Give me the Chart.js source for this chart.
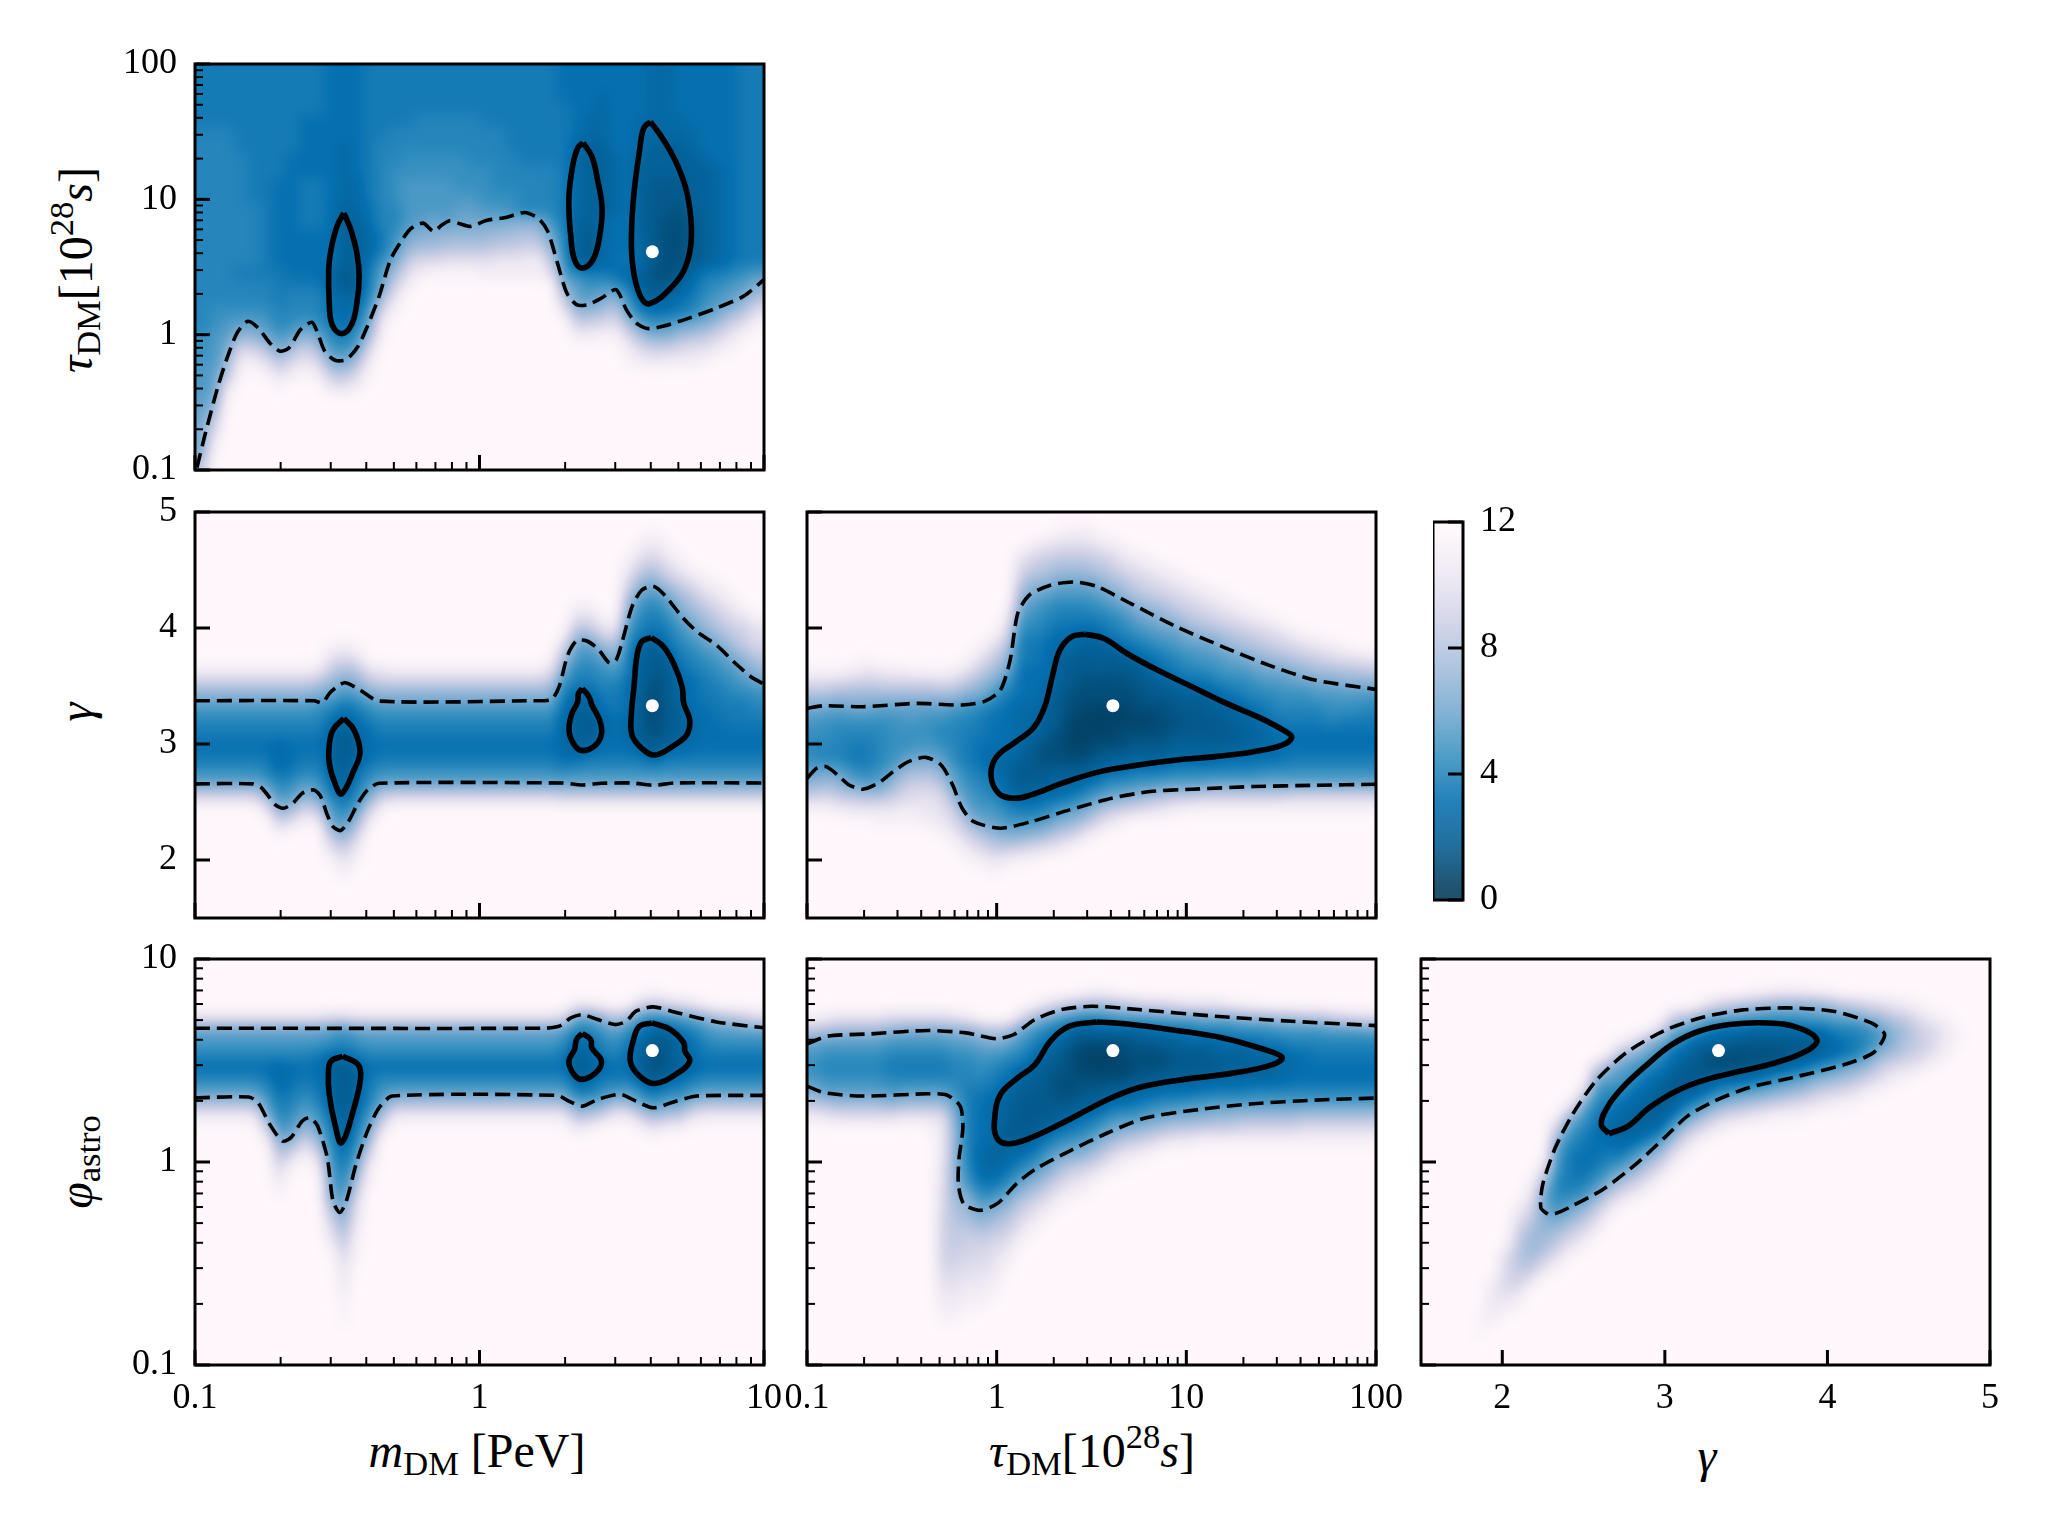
<!DOCTYPE html>
<html><head><meta charset="utf-8">
<style>
html,body{margin:0;padding:0;background:#fff;width:2048px;height:1536px;overflow:hidden}
canvas{position:absolute}
.t{position:absolute;font-family:"Liberation Serif",serif;font-size:48px;line-height:1;color:#000;white-space:nowrap;transform:translate(-50%,-50%)}
.r{transform:translate(-50%,-50%) rotate(-90deg)}
.t sub{font-size:.72em;vertical-align:-.22em;line-height:0}
.t sup{font-size:.72em;vertical-align:.55em;line-height:0}
</style>
<script src="https://cdn.jsdelivr.net/npm/chart.js@4/dist/chart.umd.js"></script>
</head><body>
<div class="t" style="left:477px;top:1451px"><i>m</i><sub>DM</sub>&nbsp;[PeV]</div>
<div class="t" style="left:1092px;top:1451px"><i>τ</i><sub>DM</sub>[10<sup>28</sup><i>s</i>]</div>
<div class="t" style="left:1707px;top:1456px"><i>γ</i></div>
<div class="t r" style="left:76px;top:270px"><i>τ</i><sub>DM</sub>[10<sup>28</sup><i>s</i>]</div>
<div class="t r" style="left:76px;top:712px"><i>γ</i></div>
<div class="t r" style="left:76px;top:1162px"><i>φ</i><sub>astro</sub></div>
<script>
// ---- tick labels ----
const massMajor=[0.1,1,10];
const massMinor=[0.2,0.3,0.4,0.5,0.6,0.7,0.8,0.9,2,3,4,5,6,7,8,9];
const tauMajor=[0.1,1,10,100];
const tauMinor=[0.2,0.3,0.4,0.5,0.6,0.7,0.8,0.9,2,3,4,5,6,7,8,9,20,30,40,50,60,70,80,90];
const gammaMajor=[2,3,4,5];
const phiMajor=[0.1,1,10];
const phiMinor=massMinor;
const colorbarTicks=[0,4,8,12];

// ---- best fit ----
const bestMass=4.05, bestTau=4.1, bestGamma=3.33, bestPhi=3.54;

// ---- contours: log10 values for log axes, plain values for gamma ----
const m_tau_solidA_x=[-.477,-.452,-.431,-.423,-.431,-.450,-.485,-.518,-.528,-.530,-.522,-.501,-.477];
const m_tau_solidA_y=[.898,.775,.603,.431,.234,.074,.008,.074,.234,.480,.628,.800,.898];
const m_tau_solidB_x=[.364,.395,.415,.431,.422,.399,.361,.334,.321,.314,.327,.345,.364];
const m_tau_solidB_y=[1.419,1.316,1.144,.935,.726,.554,.492,.554,.726,.997,1.242,1.378,1.419];
const m_tau_solidC_x=[.601,.647,.698,.732,.745,.725,.678,.597,.563,.539,.534,.543,.563,.577,.601];
const m_tau_solidC_y=[1.574,1.439,1.242,1.021,.726,.505,.357,.229,.296,.505,.726,1.046,1.365,1.525,1.574];
const m_tau_dash_x=[-.993,-.966,-.919,-.885,-.852,-.814,-.778,-.737,-.701,-.670,-.629,-.589,-.569,-.544,-.508,-.468,-.427,-.394,-.353,-.313,-.272,-.239,-.198,-.162,-.131,-.104,-.070,-.030,.024,.092,.159,.206,.240,.274,.307,.341,.381,.429,.480,.516,.550,.590,.644,.739,.833,.927,1];
const m_tau_dash_y=[-.983,-.749,-.380,-.159,.013,.099,.050,-.061,-.122,-.098,.038,.092,.013,-.122,-.189,-.184,-.085,.062,.283,.554,.701,.788,.824,.763,.812,.842,.820,.800,.844,.866,.903,.861,.763,.529,.308,.222,.222,.271,.333,.185,.087,.045,.062,.124,.197,.283,.406];

const m_g_solidA_x=[-.477,-.441,-.420,-.441,-.485,-.508,-.528,-.528,-.515,-.477];
const m_g_solidA_y=[3.221,3.121,2.934,2.776,2.570,2.661,2.834,2.991,3.121,3.221];
const m_g_solidB_x=[.361,.385,.395,.422,.429,.408,.361,.334,.315,.323,.345,.348,.361];
const m_g_solidB_y=[3.479,3.407,3.336,3.207,3.092,2.991,2.943,2.991,3.106,3.250,3.364,3.436,3.479];
const m_g_solidC_x=[.604,.647,.685,.712,.718,.739,.728,.685,.617,.570,.536,.534,.543,.553,.570,.604];
const m_g_solidC_y=[3.918,3.838,3.680,3.494,3.350,3.207,3.077,2.991,2.905,2.963,3.077,3.264,3.494,3.752,3.881,3.918];
const m_g_dashUp_x=[-1,-.582,-.553,-.522,-.474,-.420,-.353,.186,.253,.280,.310,.341,.375,.415,.456,.480,.503,.536,.570,.611,.651,.712,.765,.833,.900,.954,1];
const m_g_dashUp_y=[3.373,3.373,3.356,3.451,3.528,3.465,3.370,3.373,3.385,3.494,3.766,3.890,3.890,3.824,3.700,3.723,3.895,4.182,4.326,4.360,4.283,4.096,3.967,3.852,3.694,3.580,3.516];
const m_g_dashLo_x=[-1,-.798,-.764,-.717,-.690,-.656,-.623,-.582,-.558,-.535,-.515,-.488,-.461,-.427,-.394,-.353,.294,.361,.429,.536,.611,.685,1];
const m_g_dashLo_y=[2.656,2.656,2.618,2.475,2.446,2.489,2.575,2.604,2.547,2.389,2.288,2.254,2.331,2.489,2.604,2.661,2.664,2.647,2.661,2.664,2.644,2.664,2.664];

const t_g_solid_x=[.465,.566,.687,.848,1.030,1.212,1.394,1.525,1.556,1.505,1.354,1.152,.949,.747,.545,.343,.182,.091,.010,-.030,0,.101,.192,.253,.293,.333,.394,.465];
const t_g_solid_y=[3.947,3.910,3.780,3.637,3.494,3.350,3.221,3.106,3.057,2.991,2.934,2.891,2.862,2.819,2.762,2.661,2.561,2.532,2.575,2.733,2.891,3.020,3.135,3.321,3.580,3.809,3.924,3.947];
const t_g_dashUp_x=[-1,-.909,-.707,-.424,-.182,-.061,.020,.071,.111,.172,.283,.404,.525,.707,.949,1.192,1.434,1.677,2];
const t_g_dashUp_y=[3.307,3.330,3.321,3.350,3.336,3.370,3.465,3.723,4.125,4.283,4.369,4.397,4.360,4.211,4.010,3.838,3.680,3.551,3.471];
const t_g_dashLo_x=[-1,-.949,-.899,-.838,-.778,-.707,-.626,-.545,-.465,-.374,-.293,-.232,-.182,-.121,.020,.182,.384,.606,.808,1.030,1.354,1.677,2];
const t_g_dashLo_y=[2.704,2.791,2.805,2.733,2.647,2.610,2.661,2.762,2.848,2.885,2.819,2.647,2.446,2.331,2.274,2.331,2.432,2.532,2.590,2.610,2.633,2.644,2.653];

const m_p_solidA_x=[-.481,-.427,-.418,-.441,-.485,-.508,-.528,-.531,-.522,-.481];
const m_p_solidA_y=[.521,.480,.415,.267,.095,.185,.333,.439,.497,.521];
const m_p_solidB_x=[.361,.391,.395,.429,.408,.361,.332,.314,.334,.341,.361];
const m_p_solidB_y=[.633,.603,.562,.497,.439,.407,.431,.497,.554,.603,.633];
const m_p_solidC_x=[.606,.671,.718,.722,.739,.698,.617,.563,.530,.543,.563,.606];
const m_p_solidC_y=[.685,.652,.587,.546,.497,.439,.387,.423,.497,.611,.669,.685];
const m_p_dashUp_x=[-1,.226,.280,.321,.361,.415,.476,.516,.550,.611,.698,.833,1];
const m_p_dashUp_y=[.659,.659,.669,.710,.726,.702,.677,.693,.743,.764,.734,.690,.661];
const m_p_dashLo_x=[-1,-.811,-.778,-.737,-.693,-.663,-.623,-.596,-.569,-.535,-.515,-.491,-.468,-.434,-.394,-.353,-.306,.274,.314,.361,.415,.496,.550,.611,.685,.765,1];
const m_p_dashLo_y=[.316,.320,.292,.185,.103,.120,.202,.218,.177,.021,-.192,-.249,-.192,-.011,.152,.267,.325,.328,.300,.275,.308,.333,.300,.267,.297,.325,.328];

const t_p_solid_x=[.525,.687,.949,1.192,1.394,1.505,1.455,1.253,.949,.747,.586,.384,.182,.061,0,-.010,.020,.101,.202,.283,.384,.525];
const t_p_solid_y=[.690,.680,.648,.611,.559,.516,.480,.439,.402,.366,.308,.210,.120,.090,.120,.218,.333,.407,.480,.595,.669,.690];
const t_p_dashUp_x=[-1,-.889,-.667,-.364,-.162,0,.091,.202,.343,.505,.747,1.152,1.556,2];
const t_p_dashUp_y=[.582,.620,.631,.648,.636,.607,.628,.702,.751,.767,.751,.718,.693,.672];
const t_p_dashLo_x=[-1,-.909,-.707,-.364,-.263,-.192,-.178,-.198,-.202,-.172,-.081,.010,.101,.202,.384,.586,.788,1.071,1.354,1.677,2];
const t_p_dashLo_y=[.374,.341,.325,.336,.330,.275,.169,.021,-.110,-.208,-.238,-.200,-.110,-.036,.054,.144,.218,.259,.287,.305,.315];

const g_p_solid_x=[2.656,2.609,2.644,2.739,2.880,3.045,3.210,3.398,3.634,3.822,3.935,3.869,3.681,3.469,3.257,3.068,2.903,2.774,2.656];
const g_p_solid_y=[.139,.185,.267,.366,.472,.579,.644,.677,.685,.661,.603,.546,.489,.448,.407,.349,.267,.177,.139];
const g_p_dash_x=[2.279,2.237,2.249,2.326,2.432,2.574,2.762,2.998,3.233,3.469,3.751,4.034,4.270,4.352,4.282,4.105,3.822,3.516,3.304,3.139,2.998,2.833,2.621,2.409,2.326,2.279];
const g_p_dash_y=[-.257,-.225,-.110,.070,.234,.398,.538,.648,.713,.748,.759,.743,.685,.628,.538,.480,.423,.366,.300,.226,.120,-.003,-.134,-.225,-.254,-.257];

// ---- heat levels: one character per cell, 0..o = 0..12 in steps of 0.5 ----
const heatMassTau=[
"77777777776 66777777777 77777766666 66556666677",
"77777777776 66777777777 77777766666 66556666677",
"77777777776 66777777777 77777766656 66556666677",
"77777777776 66777777777 77777776656 66556666677",
"77777777666 66777788888 77777776556 65555666677",
"88877777666 66778888888 88777776556 65555566677",
"88877777666 56788888888 88777775446 65444566677",
"88887776666 56788999998 88877775445 64444456677",
"88887776666 56789999999 98888875445 64444445677",
"88887766776 55789aaaa99 98888875445 64333445677",
"88887766776 55789aaaaaa 99988875445 64333445677",
"88888766776 45688aaaabb aa988875445 64332445677",
"88888766776 44688abcbcc ccddda74456 64322345677",
"88888766666 44579cddeee effgfc84356 64322345677",
"88888766666 4457aeffggg ghhiie84356 65322345677",
"88888766666 4469chjjkkk klllmh94356 75322345677",
"88877776665 347bfkmnnnn mmmmmka8776 5422357789a",
"88888877775 347cimooooo oooooodb9a9 7433468 9abd",
"88888878886 558floooooo oooooohbbce 9545679abdg",
"89999988886 56ajnoooooo ooooooleefh b7667 8acegk",
"89abba89a97 67cmooooooo oooooooiijk fb9abcdfikn",
"9abeecabec8 79fnooooooo ooooooommnn jfddfghjlno",
"9acjigcfifa 9bjoooooooo ooooooooooo mjiijkkmnoo",
"aaemmkgjljd cfmoooooooo ooooooooooo nmlmmmnoooo",
"abgnonkmnmh gjnoooooooo",
"abloo onoool kmooooooooo",
"bcnoooooooo",
"bfooooooooo",
"ciooooooooo",
"clooooooooo",
"cnooooooooo",
"goooooooooo"];

const flatG=[12,"mhda87679cj"];
const heatMassGamma=[flatG,flatG,flatG,flatG,flatG,
[12,"mhda87678bfl"],[12,"mhda87556 8adin"],[12,"mhda87667 9bfk"],[12,"mhda8767 8bejn"],[12,"lgc98767 8achm"],
[10,"nkheb86555568acgkn"],[10,"mjfc96533344 68adhkm"],[10,"nkgda7654567 8beiln"],[12,"kgc9766 68adim"],[12,"lhda87679cin"],
flatG,flatG,flatG,flatG,flatG,flatG,flatG,flatG,flatG,flatG,flatG,flatG,
[11,"nkgda87679cj"],[9,"njfc97655568ci"],[7,"mjfba8754444 69ci"],[7,"mjfb98754335 79ci"],[8,"mjeb98765567 9ci"],[8,"nkgda87766 679ci"],
[3,"nljgdb98776665 5679ci"],[2,"mkheb98754443333479ci"],[1,"nljgda87643322122359ci"],[2,"nljgca87643333335 79ci"],[3,"nlifdb987655444 579ci"],
[4,"nkhfdb98766655 679ci"],[5,"mkhfdb987766 66 79ci"],[5,"nljhfca98776667 9ci"],[6,"nljhfca987766 79ci"],[7,"nkiheca87766 79ci"],[8,"mkjgeb987667 9ci"]];

const heatTauGamma=[
[12,"njfca989bein"],[12,"njfc9988cfjn"],[12,"nieb9888behm"],[12,"miec98779chl"],[11,"nlhec98778bgl"],[12,"lieb98889bgln"],
[12,"mieb9999behln"],[12,"mieba99behjmn"],[12,"nieba9acfikln"],[12,"nieb99acfiklm"],[12,"njeb989bdgjkln"],[12,"miea8888abdhjln"],
[11,"nkgc98777 89abfiln"],[10,"nkhec87766789acgjm"],[9,"nkhfc97666567 8abehln"],[7,"nljgec976666545 68adhm"],
[3,"ljheca87766655554335 7adin"],[2,"mjheca9877666 555333 457aejn"],[2,"ligeb9876665544 32234 68bfk"],
[1,"nkhfca8765444 333222 456adhl"],[1,"mkhfca87654 33221112357bein"],[1,"mkhfca87543322111124 69cgl"],[1,"nligdb976 4432211123 57bfjn"],
[2,"mjhfca87533221112469chl"],[2,"nljgeb98643221122469din"],[3,"mkigdb975332212 357aej"],[3,"nljhe ca8653321234 7afk"],
[4,"mkifdb976432223 57bgl"],[4,"nljheba87533234 58bhm"],[5,"mkigdb98643334 58bhn"],[5,"nljheba864333458bin"],
[6,"mkifca975433458cin"],[6,"nljgeba86443468cin"],[7,"mkhfca875444 68cin"],[7,"nligdb986545 68cin"],[8,"mjheca8765569cin"],
[8,"nkifca987666 9cin"],[9,"mjgdb987667 9cjn"],[9,"nkheb987667 9cjn"],[10,"lifca87667 9cjn"],[10,"mjfca986679cjn"],
[10,"nkgda97667 9cjn"],[11,"kgda97667 9cjn"],[11,"lhda87667 9cjn"]];

const flatP=[4,"lca868bgm"];
const heatMassPhi=[flatP,flatP,flatP,flatP,flatP,
[4,"lca8679bejn"],[4,"lca85567 8adgjln"],[4,"lca86678 9bejn"],[4,"lca8678acfjn"],[4,"lca76678acfjm"],
[4,"kb9645556789abcfikm"],[4,"ka8633334456 789bdfhjklmnn"],[4,"lc97545567 8acfiklmnn"],[4,"lca86778acfjmn"],[4,"lca868acgl"],
flatP,flatP,flatP,flatP,flatP,flatP,flatP,flatP,flatP,flatP,flatP,flatP,flatP,
[4,"kb9768bgm"],[3,"mc854357cgm"],[3,"mc865457chn"],[3,"nea87579djo"],[4,"hc9867agm"],[3,"nf97667bfm"],[3,"ja754458cin"],
[2,"nh9532236afl"],[3,"ja533358chn"],[3,"kb755468chn"],[3,"lc866 57afl"],[3,"nea8768bgm"],[4,"gb9768bgm"],[4,"hb9768bgm"],[4,"ic9768bgm"],[4,"kc9768bgm"]];

const heatTauPhi=[
[4,"nhca9adhm"],[4,"mgb989bgl"],[4,"lfb989bfk"],[4,"lfb989bfk"],[4,"lfb989bfk"],[4,"lfb989bfk"],[4,"kea878aek"],
[4,"kda878bfl"],[4,"kda878bfl"],[4,"kda878bfln"],[4,"kda878bfklllkkjjiiiijklmn"],
[4,"leb9889bcdddddefghhijklmn"],[4,"meb988777777 89cefhijklmn"],[5,"gca98766665568bdgijklmn"],[5,"hda87655554569cfhjklmn"],
[5,"gc97654434568begikmn"],[4,"kca8644333468behjln"],[3,"nga86543333 57adgjln"],[3,"ld86533333 57acfiln"],[3,"jb75332234 69cfiln"],
[3,"ha53222235 7adhkm"],[2,"ng942112 3468beiln"],[2,"nf9521123 47adgkn"],[2,"nga5211246 9cfjm"],[3,"hb522124 6adhln"],[3,"ib53223 57aeim"],
[3,"jb632235 8bfjn"],[3,"jc642246 9cgl"],[3,"kc743346 9dhm"],[3,"lc75334 6adhm"],[3,"ld85334 7adin"],[3,"ld85435 7bein"],[3,"md86445 7bein"],
[3,"ne96445 7bfjn"],[3,"nf96545 8bfjn"],[4,"f97545 8bfjn"],[4,"ga75558bfjn"],[4,"ga86568bfjn"],[4,"ha8666 8bgkn"],[4,"ha87668bgkn"],
[4,"ib87668bgkn"],[4,"jb87668bgkn"],[4,"kb87668bgkn"],[4,"kc87668bgkn"]];

const heatGammaPhi=[[0,""],[0,""],[0,""],[0,""],
[28,"nn"],[25,"mllm"],[22,"nkjjkm"],[19,"mkihghiln"],[17,"nljhfefhl"],[15,"nkfccdefhl"],
[12,"mhca9889cfhkn"],[11,"mda87778behkn"],[10,"kca876679dgjm"],[8,"jca8766679cgjm"],[7,"mdb876567 9cgkn"],[6,"mfba86545 7bfjn"],
[6,"kda865446adhl"],[5,"neb86544 58dgkn"],[5,"jc9754346bfjn"],[4,"ic9653347cgkn"],[4,"hb7533 47bgkn"],[3,"ne953335 9ejn"],
[3,"kc752247chl"],[3,"ic642259ejn"],[3,"hb63225afk"],[2,"ngb53236bgl"],[2,"nfa53237chm"],[2,"mea53249din"],[2,"mea5335aejn"],
[2,"mea6336bfkn"],[2,"neb6348dhl"],[2,"nfb7559eim"],[3,"hc866bfjn"],[3,"ic877dgkn"],[3,"je98aeim"],[3,"kfbaehkn"],[3,"lhedfjm"],[3,"mifghkn"],
[3,"nkihil"],[4,"mjjkn"],[4,"nllm"],[5,"nn"],[0,""],[0,""]];

const heatColorbar=[[0,"onmlkjihgfedcba9876543210"]];

// ---- colour map stops (level, colour) ----
const cmapLevels=[0,1.5,3,4.5,6,7.5,9,10.5,12];
const cmapColors=["#023858","#045a8d","#0570b0","#3690c0","#74a9cf","#a6bddb","#d0d1e6","#ece7f2","#fff7fb"];

const CODE="0123456789abcdefghijklmno";
const ROWS=32, COLS=44;
function gridFromRows(rows){
  return rows.map(s=>s.replace(/ /g,"").padEnd(COLS,"o").split("").slice(0,COLS).map(c=>CODE.indexOf(c)/2));
}
function gridFromCols(cols,nr){
  const n=nr||ROWS, out=[];
  for(let r=0;r<n;r++){out.push(cols.map(([start,s])=>{
    const t=s.replace(/ /g,""); const i=r-start;
    return i>=0&&i<t.length?CODE.indexOf(t[i])/2:12;}));}
  return out;
}
const cmapRGB=cmapColors.map(h=>[1,3,5].map(i=>parseInt(h.substr(i,2),16)));
function levelColor(v){
  v=Math.max(0,Math.min(12,v));
  let i=0; while(i<cmapLevels.length-2&&v>cmapLevels[i+1])i++;
  const f=(v-cmapLevels[i])/(cmapLevels[i+1]-cmapLevels[i]);
  return cmapRGB[i].map((c,k)=>c+(cmapRGB[i+1][k]-c)*f);
}
// cubic B-spline display smoothing of the cell levels
function bs(a,b,c,d,t){const t2=t*t,t3=t2*t;
  return (a*(1-t)*(1-t)*(1-t)+b*(3*t3-6*t2+4)+c*(-3*t3+3*t2+3*t+1)+d*t3)/6;}
function sample(g,u,v){
  const R=g.length,C=g[0].length;
  const cl=(x,m)=>x<0?0:x>=m?m-1:x;
  const iu=Math.floor(u),iv=Math.floor(v),fu=u-iu,fv=v-iv,col=[];
  for(let k=-1;k<=2;k++){const row=g[cl(iv+k,R)];
    col.push(bs(row[cl(iu-1,C)],row[cl(iu,C)],row[cl(iu+1,C)],row[cl(iu+2,C)],fu));}
  return bs(col[0],col[1],col[2],col[3],fv);
}
const heatPlugin={id:"heat",beforeDatasetsDraw(chart,a,o){
  const {ctx}=chart,g=o.grid,xs=chart.scales.x,ys=chart.scales.y;
  const L=Math.round(xs.getPixelForValue(xs.min)),Rr=Math.round(xs.getPixelForValue(xs.max));
  const T=Math.round(ys.getPixelForValue(ys.max)),B=Math.round(ys.getPixelForValue(ys.min));
  const w=Rr-L,h=B-T,img=ctx.createImageData(w,h),R=g.length,C=g[0].length,alpha=o.alpha||1;
  for(let y=0;y<h;y++)for(let x=0;x<w;x++){
    const c=levelColor(sample(g,(x+.5)/w*C-.5,(y+.5)/h*R-.5)),p=(y*w+x)*4;
    img.data[p]=c[0]*alpha+255*(1-alpha);img.data[p+1]=c[1]*alpha+255*(1-alpha);img.data[p+2]=c[2]*alpha+255*(1-alpha);img.data[p+3]=255;}
  ctx.putImageData(img,L,T);
}};
const framePlugin={id:"frame",afterDatasetsDraw(chart,a,o){
  const {ctx,chartArea:ca,scales}=chart;ctx.save();ctx.strokeStyle="#000";
  const draw=(sc,list,len,wd)=>{ctx.lineWidth=wd;list.forEach(v=>{const p=sc.getPixelForValue(v);ctx.beginPath();
    if(sc.axis==="x"){ctx.moveTo(p,ca.bottom);ctx.lineTo(p,ca.bottom-len);}
    else if(o.right){ctx.moveTo(ca.right,p);ctx.lineTo(ca.right-len,p);}
    else{ctx.moveTo(ca.left,p);ctx.lineTo(ca.left+len,p);}
    ctx.stroke();});};
  if(o.xMajor){draw(scales.x,o.xMinor,8,2);draw(scales.x,o.xMajor,15,3);}
  draw(scales.y,o.yMinor,8,2);draw(scales.y,o.yMajor,15,3);
  ctx.lineWidth=3;ctx.strokeRect(ca.left,ca.top,ca.right-ca.left,ca.bottom-ca.top);ctx.restore();
}};
Chart.register(heatPlugin,framePlugin);

const AX={
 mass:{type:"logarithmic",min:.1,max:10,major:massMajor,minor:massMinor,log:true},
 tau:{type:"logarithmic",min:.1,max:100,major:tauMajor,minor:tauMinor,log:true},
 gamma:{type:"linear",min:1.5,max:5,major:gammaMajor,minor:[],log:false},
 phi:{type:"logarithmic",min:.1,max:10,major:phiMajor,minor:phiMinor,log:true}
};
function scaleCfg(ax,isX,showLabels){
  return {type:ax.type,min:ax.min,max:ax.max,position:isX?"bottom":"left",
    grid:{display:false,drawTicks:false},border:{display:false},
    afterBuildTicks:s=>{s.ticks=ax.major.concat(ax.minor).sort((a,b)=>a-b).map(v=>({value:v}));},
    afterFit:s=>{if(isX){s.height=70;s.paddingLeft=0;s.paddingRight=0;}else{s.width=120;s.paddingTop=0;s.paddingBottom=0;}},
    ticks:{autoSkip:false,maxRotation:0,minRotation:0,padding:isX?12:18,color:"#000",
      font:{family:"'Liberation Serif',serif",size:36},
      callback:v=>(showLabels&&ax.major.includes(v))?String(v):""}};
}
function line(xs,ys,ax,ay,dashed){
  const data=xs.map((x,i)=>({x:ax.log?Math.pow(10,x):x,y:ay.log?Math.pow(10,ys[i]):ys[i]}));
  return {type:"scatter",data,showLine:true,pointRadius:0,borderColor:"#000",fill:false,tension:dashed?.25:.4,
    borderWidth:dashed?3.6:5.6,borderDash:dashed?[15,7]:[],borderCapStyle:"butt",borderJoinStyle:"round"};
}
function star(x,y){return {type:"scatter",data:[{x,y}],showLine:false,pointStyle:"circle",pointRadius:6.5,pointBorderWidth:0,backgroundColor:"#fff",borderColor:"#fff"};}
function panel(L,T,W,H,ax,ay,showX,showY,lines,bx,by,grid){
  const c=document.createElement("canvas");const cw=120+W+50,ch=30+H+70;
  c.width=cw;c.height=ch;c.style.left=(L-120)+"px";c.style.top=(T-30)+"px";c.style.width=cw+"px";c.style.height=ch+"px";
  document.body.appendChild(c);
  new Chart(c,{type:"scatter",data:{datasets:[...lines,star(bx,by)]},options:{responsive:false,animation:false,devicePixelRatio:1,
    layout:{padding:{top:30,right:50,left:0,bottom:0}},
    plugins:{legend:{display:false},tooltip:{enabled:false},heat:{grid},
      frame:{xMajor:ax.major,xMinor:ax.minor,yMajor:ay.major,yMinor:ay.minor}},
    scales:{x:scaleCfg(ax,true,showX),y:scaleCfg(ay,false,showY)}}});
}
const X1=195,X2=807,X3=1421,W=569,Y1=64,Y2=512,Y3=959,H=406;
panel(X1,Y1,W,H,AX.mass,AX.tau,false,true,[
 line(m_tau_dash_x,m_tau_dash_y,AX.mass,AX.tau,true),
 line(m_tau_solidA_x,m_tau_solidA_y,AX.mass,AX.tau,false),
 line(m_tau_solidB_x,m_tau_solidB_y,AX.mass,AX.tau,false),
 line(m_tau_solidC_x,m_tau_solidC_y,AX.mass,AX.tau,false)],bestMass,bestTau,gridFromRows(heatMassTau));
panel(X1,Y2,W,H,AX.mass,AX.gamma,false,true,[
 line(m_g_dashUp_x,m_g_dashUp_y,AX.mass,AX.gamma,true),
 line(m_g_dashLo_x,m_g_dashLo_y,AX.mass,AX.gamma,true),
 line(m_g_solidA_x,m_g_solidA_y,AX.mass,AX.gamma,false),
 line(m_g_solidB_x,m_g_solidB_y,AX.mass,AX.gamma,false),
 line(m_g_solidC_x,m_g_solidC_y,AX.mass,AX.gamma,false)],bestMass,bestGamma,gridFromCols(heatMassGamma));
panel(X2,Y2,W,H,AX.tau,AX.gamma,false,false,[
 line(t_g_dashUp_x,t_g_dashUp_y,AX.tau,AX.gamma,true),
 line(t_g_dashLo_x,t_g_dashLo_y,AX.tau,AX.gamma,true),
 line(t_g_solid_x,t_g_solid_y,AX.tau,AX.gamma,false)],bestTau,bestGamma,gridFromCols(heatTauGamma));
panel(X1,Y3,W,H,AX.mass,AX.phi,true,true,[
 line(m_p_dashUp_x,m_p_dashUp_y,AX.mass,AX.phi,true),
 line(m_p_dashLo_x,m_p_dashLo_y,AX.mass,AX.phi,true),
 line(m_p_solidA_x,m_p_solidA_y,AX.mass,AX.phi,false),
 line(m_p_solidB_x,m_p_solidB_y,AX.mass,AX.phi,false),
 line(m_p_solidC_x,m_p_solidC_y,AX.mass,AX.phi,false)],bestMass,bestPhi,gridFromCols(heatMassPhi));
panel(X2,Y3,W,H,AX.tau,AX.phi,true,false,[
 line(t_p_dashUp_x,t_p_dashUp_y,AX.tau,AX.phi,true),
 line(t_p_dashLo_x,t_p_dashLo_y,AX.tau,AX.phi,true),
 line(t_p_solid_x,t_p_solid_y,AX.tau,AX.phi,false)],bestTau,bestPhi,gridFromCols(heatTauPhi));
panel(X3,Y3,W,H,AX.gamma,AX.phi,true,false,[
 line(g_p_dash_x,g_p_dash_y,AX.gamma,AX.phi,true),
 line(g_p_solid_x,g_p_solid_y,AX.gamma,AX.phi,false)],bestGamma,bestPhi,gridFromCols(heatGammaPhi));

// colour bar
(function(){
  const c=document.createElement("canvas");const w=30,h=378,rm=80;
  c.width=w+rm;c.height=h+60;c.style.left="1433px";c.style.top=(522-30)+"px";
  document.body.appendChild(c);
  new Chart(c,{type:"scatter",data:{datasets:[{data:colorbarTicks.map(v=>({x:0,y:v})),pointRadius:0}]},options:{responsive:false,animation:false,devicePixelRatio:1,
    layout:{padding:{top:30,bottom:30}},
    plugins:{legend:{display:false},tooltip:{enabled:false},heat:{grid:gridFromCols(heatColorbar,25),alpha:.88},
      frame:{right:true,yMajor:colorbarTicks,yMinor:[]}},
    scales:{x:{type:"linear",display:false,min:0,max:1},
      y:{type:"linear",position:"right",min:0,max:12,grid:{display:false,drawTicks:false},border:{display:false},
        afterBuildTicks:s=>{s.ticks=colorbarTicks.map(v=>({value:v}));},
        afterFit:s=>{s.width=rm;s.paddingTop=0;s.paddingBottom=0;},
        ticks:{padding:17,color:"#000",font:{family:"'Liberation Serif',serif",size:36},callback:v=>String(v)}}}}});
})();
</script></body></html>
